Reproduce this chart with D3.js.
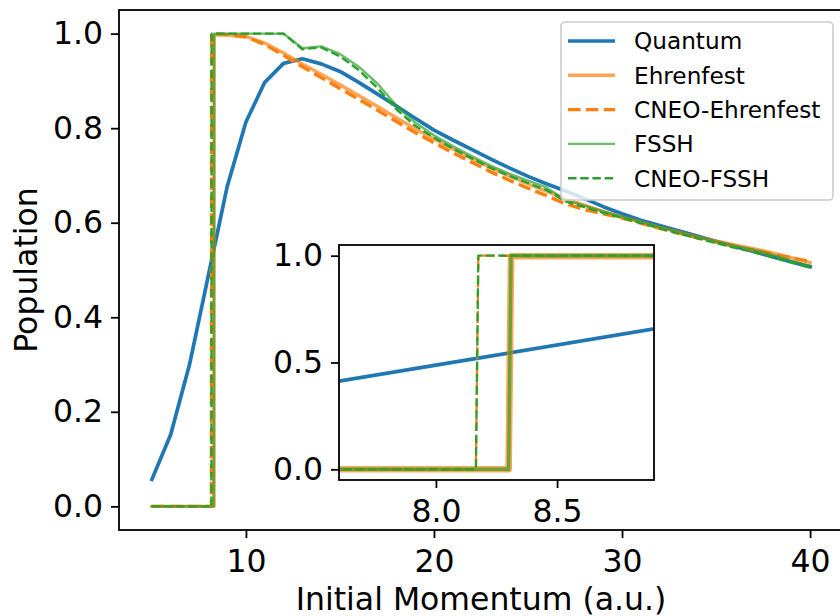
<!DOCTYPE html>
<html>
<head>
<meta charset="utf-8">
<script src="https://cdn.jsdelivr.net/npm/d3@7"></script>
<style>
  body { margin: 0; background: #fff; }
  svg { display: block; font-family: "DejaVu Sans", sans-serif; }
</style>
</head>
<body>
<script>
(function() {

  // momentum grid used by the quantum reference
  const momentum = [5,6,7,8,9,10,11,12,13,14,15,16,17,18,19,20,21,22,23,24,25,26,27,28,29,30,31,32,33,34,35,36,37,38,39,40];
  const quantum = [0.057,0.152,0.300,0.488,0.676,0.813,0.897,0.937,0.947,0.936,0.920,0.897,0.872,0.847,0.821,0.796,0.775,0.755,0.735,0.716,0.698,0.682,0.667,0.651,0.634,0.619,0.605,0.594,0.583,0.572,0.561,0.550,0.539,0.528,0.517,0.507];

  // classical runs have extra points around the threshold
  const momentumStd = [5,6,7,8,8.30,8.31,9,10,11,12,13,14,15,16,17,18,19,20,21,22,23,24,25,26,27,28,29,30,31,32,33,34,35,36,37,38,39,40];
  const momentumCneo = [5,6,7,8,8.165,8.175,9,10,11,12,13,14,15,16,17,18,19,20,21,22,23,24,25,26,27,28,29,30,31,32,33,34,35,36,37,38,39,40];

  const ehrenfest = [0,0,0,0,0,0.997,0.997,0.994,0.980,0.959,0.936,0.914,0.892,0.869,0.846,0.822,0.799,0.777,0.756,0.736,0.717,0.699,0.682,0.666,0.651,0.637,0.624,0.612,0.601,0.590,0.580,0.570,0.561,0.553,0.545,0.536,0.526,0.516];
  const cneoEhrenfest = [0,0,0,0,0,1.0,0.998,0.993,0.977,0.954,0.930,0.907,0.884,0.861,0.838,0.814,0.791,0.769,0.748,0.728,0.708,0.690,0.673,0.657,0.640,0.628,0.619,0.610,0.599,0.588,0.578,0.568,0.559,0.550,0.542,0.534,0.526,0.518];
  const fssh = [0,0,0,0,0,1,1,1,1,1,0.969,0.973,0.957,0.930,0.894,0.848,0.812,0.785,0.762,0.741,0.721,0.704,0.689,0.674,0.648,0.636,0.624,0.613,0.602,0.591,0.580,0.570,0.560,0.551,0.543,0.532,0.520,0.509];
  const cneoFssh = [0,0,0,0,0,1,1,1,1,1,0.967,0.971,0.952,0.923,0.885,0.840,0.805,0.780,0.757,0.736,0.716,0.699,0.684,0.669,0.645,0.633,0.621,0.610,0.599,0.588,0.577,0.567,0.557,0.547,0.538,0.527,0.516,0.505];

  const seriesNames = ["Quantum", "Ehrenfest", "CNEO-Ehrenfest", "FSSH", "CNEO-FSSH"];

  const xTicks = [10, 20, 30, 40];
  const yTicks = [0, 0.2, 0.4, 0.6, 0.8, 1.0];
  const insetXTicks = [8.0, 8.5];
  const insetYTicks = [0, 0.5, 1.0];

  const W = 840, H = 616;
  const tickFont = 31.5, legendFont = 23.2;

  const svg = d3.select("body").append("svg")
    .attr("width", W)
    .attr("height", H);

  svg.append("rect").attr("width", W).attr("height", H).attr("fill", "#fff");

  // line styles for main axes and inset (inset uses heavier solid classical lines)
  const styles = [
    { color: "#1f77b4", width: 3.7, opacity: 1, dash: null, insetWidth: 3.7 },
    { color: "#ff7f0e", width: 3.4, opacity: 0.7, dash: null, insetWidth: 6.6 },
    { color: "#ff7f0e", width: 3.4, opacity: 1, dash: "12.5,5.4", insetWidth: 2.3 },
    { color: "#2ca02c", width: 2.4, opacity: 0.7, dash: null, insetWidth: 3.4 },
    { color: "#2ca02c", width: 2.4, opacity: 1, dash: "8.5,3.7", insetWidth: 2.3 }
  ];

  const seriesData = [
    momentum.map((m, i) => [m, quantum[i]]),
    momentumStd.map((m, i) => [m, ehrenfest[i]]),
    momentumCneo.map((m, i) => [m, cneoEhrenfest[i]]),
    momentumStd.map((m, i) => [m, fssh[i]]),
    momentumCneo.map((m, i) => [m, cneoFssh[i]])
  ];

  function drawPanel(opts) {
    let xScale = d3.scaleLinear().domain(opts.xDomain).range([opts.left, opts.right]);
    let yScale = d3.scaleLinear().domain(opts.yDomain).range([opts.bottom, opts.top]);

    let g = svg.append("g");

    g.append("rect")
      .attr("x", opts.left).attr("y", opts.top)
      .attr("width", opts.right - opts.left)
      .attr("height", opts.bottom - opts.top)
      .attr("fill", "#fff");

    g.append("clipPath").attr("id", opts.id)
      .append("rect")
      .attr("x", opts.left).attr("y", opts.top)
      .attr("width", opts.right - opts.left)
      .attr("height", opts.bottom - opts.top);

    let line = d3.line()
      .x(d => xScale(d[0]))
      .y(d => yScale(d[1]));

    let lines = g.append("g").attr("clip-path", "url(#" + opts.id + ")");
    seriesData.forEach((data, i) => {
      let s = styles[i];
      lines.append("path")
        .datum(data)
        .attr("d", line)
        .attr("fill", "none")
        .attr("stroke", s.color)
        .attr("stroke-opacity", s.opacity)
        .attr("stroke-width", opts.inset ? s.insetWidth : s.width)
        .attr("stroke-dasharray", s.dash)
        .attr("stroke-linejoin", "round")
        .attr("stroke-linecap", s.dash ? "butt" : "square");
    });

    // axes
    let xAxis = d3.axisBottom(xScale)
      .tickValues(opts.xTicks)
      .tickFormat(opts.xFormat)
      .tickSize(8).tickSizeOuter(0).tickPadding(12);
    let yAxis = d3.axisLeft(yScale)
      .tickValues(opts.yTicks)
      .tickFormat(d3.format(".1f"))
      .tickSize(8).tickSizeOuter(0).tickPadding(8);

    let gx = g.append("g")
      .attr("transform", "translate(0," + opts.bottom + ")")
      .call(xAxis);
    let gy = g.append("g")
      .attr("transform", "translate(" + opts.left + ",0)")
      .call(yAxis);

    [gx, gy].forEach(ax => {
      ax.select(".domain").remove();
      ax.selectAll("line").attr("stroke", "#000").attr("stroke-width", 1.8);
      ax.selectAll("text")
        .attr("fill", "#000")
        .style("font-size", tickFont + "px")
        .style("font-family", "DejaVu Sans");
    });

    // frame
    g.append("rect")
      .attr("x", opts.left).attr("y", opts.top)
      .attr("width", opts.right - opts.left)
      .attr("height", opts.bottom - opts.top)
      .attr("fill", "none")
      .attr("stroke", "#000")
      .attr("stroke-width", 1.8);

    return { xScale: xScale, yScale: yScale };
  }

  // main axes
  drawPanel({
    id: "clipMain",
    left: 119, right: 843, top: 10, bottom: 530,
    xDomain: [3.25, 41.75], yDomain: [-0.05, 1.05],
    xTicks: xTicks, yTicks: yTicks,
    xFormat: d3.format("d"),
    inset: false
  });

  svg.append("text")
    .attr("x", 481).attr("y", 610)
    .attr("text-anchor", "middle")
    .style("font-size", tickFont + "px")
    .text("Initial Momentum (a.u.)");

  svg.append("text")
    .attr("transform", "translate(37,270) rotate(-90)")
    .attr("text-anchor", "middle")
    .style("font-size", tickFont + "px")
    .text("Population");

  // legend
  let legend = svg.append("g");
  legend.append("rect")
    .attr("x", 561).attr("y", 22)
    .attr("width", 272).attr("height", 178)
    .attr("rx", 4)
    .attr("fill", "#fff").attr("fill-opacity", 0.8)
    .attr("stroke", "#cccccc").attr("stroke-width", 1.6);

  seriesNames.forEach((name, i) => {
    let s = styles[i];
    let cy = 41 + i * 34.3;
    legend.append("line")
      .attr("x1", 568).attr("x2", 615)
      .attr("y1", cy).attr("y2", cy)
      .attr("stroke", s.color)
      .attr("stroke-opacity", s.opacity)
      .attr("stroke-width", s.width)
      .attr("stroke-dasharray", s.dash);
    legend.append("text")
      .attr("x", 634).attr("y", cy + 8.4)
      .style("font-size", legendFont + "px")
      .text(name);
  });

  // inset zoom around the threshold
  drawPanel({
    id: "clipInset",
    left: 339, right: 654, top: 245, bottom: 480,
    xDomain: [7.6, 8.9], yDomain: [-0.05, 1.05],
    xTicks: insetXTicks, yTicks: insetYTicks,
    xFormat: d3.format(".1f"),
    inset: true
  });

})();
</script>
</body>
</html>
